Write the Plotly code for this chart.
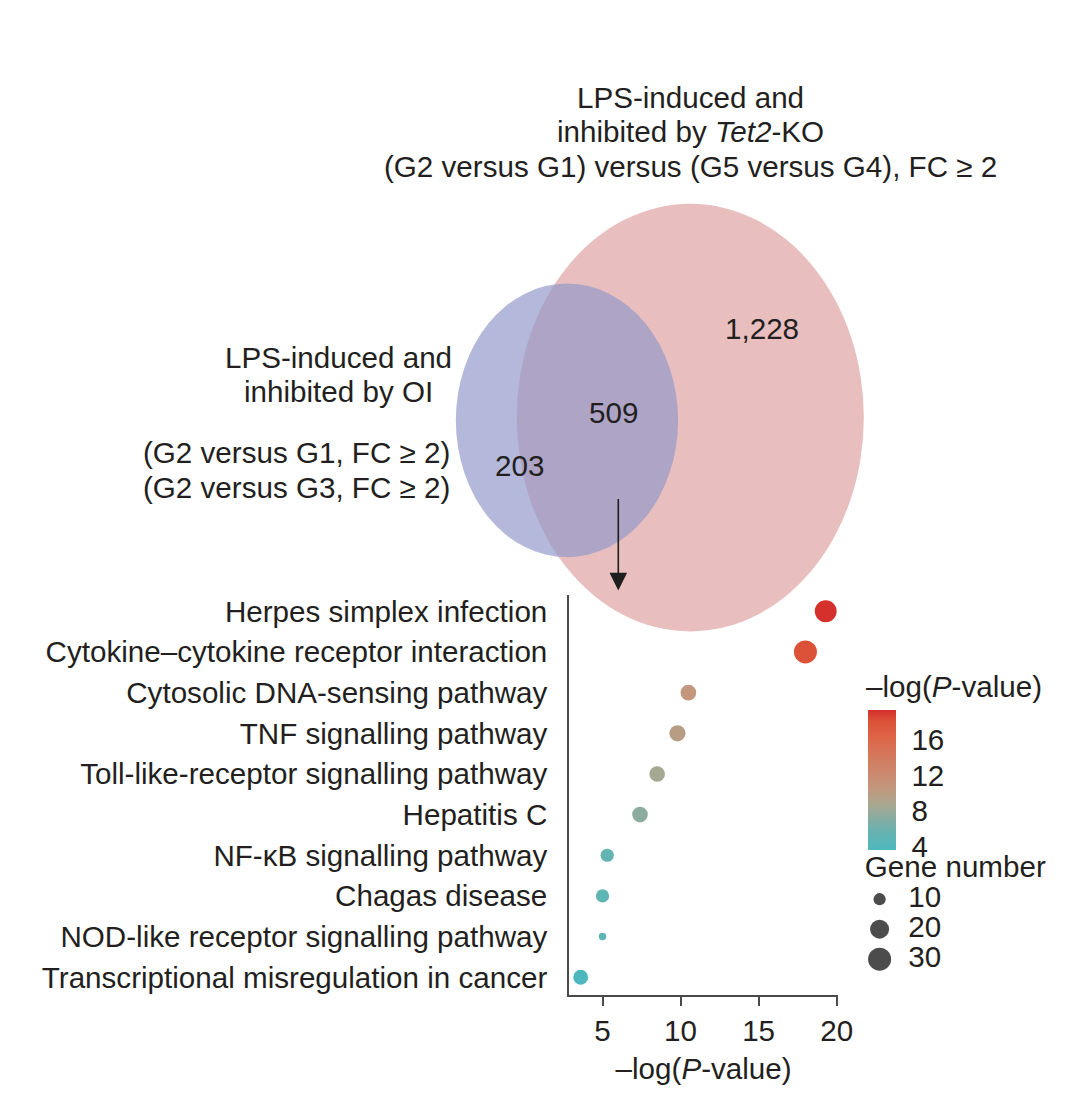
import numpy as np
import plotly.graph_objects as go

# ---------------- data ----------------
pathways = [
    "Herpes simplex infection",
    "Cytokine–cytokine receptor interaction",
    "Cytosolic DNA-sensing pathway",
    "TNF signalling pathway",
    "Toll-like-receptor signalling pathway",
    "Hepatitis C",
    "NF-κB signalling pathway",
    "Chagas disease",
    "NOD-like receptor signalling pathway",
    "Transcriptional misregulation in cancer",
]
neg_log_p = [19.3, 18.0, 10.5, 9.8, 8.5, 7.4, 5.3, 5.0, 5.0, 3.6]
gene_number = [27, 30, 14, 15, 14, 14, 11, 11, 8, 13]
size_legend_values = [10, 20, 30]
x_tick_values = [5, 10, 15, 20]
colorbar_tick_values = [4, 8, 12, 16]

venn_only_oi = 203
venn_both = 509
venn_only_tet2 = 1228

# ---------------- styling ----------------
W, H = 1080, 1106
FONT = "Liberation Sans, Arial, Helvetica, sans-serif"
TXT = "#231F20"
FS = 29.6
AX = "#4a4a4a"
OFFX = 10  # horizontal correction in pixels

colorscale = [
    [0.00, "#4CB8BD"],
    [0.15, "#6CB1AE"],
    [0.32, "#A8A892"],
    [0.45, "#C4957B"],
    [0.60, "#CF8268"],
    [0.80, "#DE6548"],
    [0.92, "#DB5238"],
    [1.00, "#D5302C"],
]

gmin, gmax = min(gene_number), max(gene_number)


def dot_size(g):
    g = np.asarray(g, dtype=float)
    return 7.5 + 15.5 * np.sqrt(np.clip((g - gmin) / (gmax - gmin), 0, None))


def px_x(p):
    return (p + OFFX) / W


def px_y(p):
    return 1 - p / H


fig = go.Figure()

# ---------------- dot plot ----------------
fig.add_trace(go.Scatter(
    x=neg_log_p, y=pathways, mode="markers",
    xaxis="x", yaxis="y",
    marker=dict(
        size=dot_size(gene_number), color=neg_log_p,
        colorscale=colorscale, line=dict(width=0), opacity=1,
        showscale=True,
        colorbar=dict(
            x=px_x(860), xanchor="left",
            y=px_y(780), yanchor="middle",
            len=140, lenmode="pixels",
            thickness=28, thicknessmode="pixels",
            outlinewidth=0,
            tickvals=colorbar_tick_values,
            ticks="outside", ticklen=10, tickcolor="rgba(255,255,255,0)",
            tickfont=dict(family=FONT, size=FS, color=TXT),
            xpad=10, ypad=0,
        ),
    ),
    showlegend=False, hoverinfo="x+y",
))

# ---------------- size legend ----------------
fig.add_trace(go.Scatter(
    x=[22] * len(size_legend_values), y=list(range(len(size_legend_values))),
    mode="markers", xaxis="x3", yaxis="y3",
    marker=dict(size=dot_size(size_legend_values), color="black", line=dict(width=0)),
    showlegend=False, hoverinfo="skip",
))
fig.add_trace(go.Scatter(
    x=[51] * len(size_legend_values), y=list(range(len(size_legend_values))),
    mode="text", text=[str(v) for v in size_legend_values],
    textposition="middle right", xaxis="x3", yaxis="y3",
    textfont=dict(family=FONT, size=FS, color=TXT),
    showlegend=False, hoverinfo="skip",
))
fig.add_trace(go.Scatter(
    x=[7], y=[-1], mode="text", text=["Gene number"],
    textposition="middle right", xaxis="x3", yaxis="y3",
    textfont=dict(family=FONT, size=FS, color=TXT),
    showlegend=False, hoverinfo="skip",
))

# ---------------- Venn geometry ----------------
rA = np.sqrt((venn_only_oi + venn_both) / np.pi)
rB = np.sqrt((venn_both + venn_only_tet2) / np.pi)


def lens_area(d, r1, r2):
    a1 = r1 ** 2 * np.arccos((d ** 2 + r1 ** 2 - r2 ** 2) / (2 * d * r1))
    a2 = r2 ** 2 * np.arccos((d ** 2 + r2 ** 2 - r1 ** 2) / (2 * d * r2))
    a3 = 0.5 * np.sqrt((-d + r1 + r2) * (d + r1 - r2) * (d - r1 + r2) * (d + r1 + r2))
    return a1 + a2 - a3


lo, hi = (rB - rA) + 1e-9, (rA + rB) - 1e-9
for _ in range(80):
    mid = 0.5 * (lo + hi)
    if lens_area(mid, rB, rA) > venn_both:
        lo = mid
    else:
        hi = mid
d_centers = 0.5 * (lo + hi)

# Venn axis scaling (pixel frame of the subplot)
sx = 176 / rB
sy = 214 / rB
cx_px, cy_px = 690, 417
vx0, vx1, vy0, vy1 = 380, 900, 190, 640
venn_xrange = [-(cx_px - vx0) / sx, (vx1 - cx_px) / sx]
venn_yrange = [-(vy1 - cy_px) / sy, (cy_px - vy0) / sy]

shapes = [
    dict(type="circle", xref="x2", yref="y2",
         x0=-rB, x1=rB, y0=-rB, y1=rB,
         fillcolor="#E8BFBE", line=dict(width=0), layer="below"),
    dict(type="circle", xref="x2", yref="y2",
         x0=-d_centers - rA, x1=-d_centers + rA, y0=-rA - 0.3, y1=rA - 0.3,
         fillcolor="rgba(144,152,202,0.68)", line=dict(width=0), layer="below"),
]

annotations = []


def add_text(text, x, y, xanchor="center", size=FS):
    annotations.append(dict(
        text=text, x=px_x(x), y=px_y(y), xref="paper", yref="paper",
        xanchor=xanchor, yanchor="middle", showarrow=False,
        font=dict(family=FONT, size=size, color=TXT),
    ))


# Venn header
add_text("LPS-induced and", 690, 97)
add_text("inhibited by <i>Tet2</i>-KO", 690, 131)
add_text("(G2 versus G1) versus (G5 versus G4), FC ≥ 2", 690, 166)
# Left label
add_text("LPS-induced and", 333, 357)
add_text("inhibited by OI", 333, 391)
add_text("(G2 versus G1, FC ≥ 2)", 448, 452, xanchor="right")
add_text("(G2 versus G3, FC ≥ 2)", 448, 487, xanchor="right")
# counts
add_text(f"{venn_only_tet2:,}", 763, 328)
add_text(f"{venn_both:,}", 612, 412)
add_text(f"{venn_only_oi:,}", 517, 465)
# colorbar title
add_text("–log(<i>P</i>-value)", 866, 686, xanchor="left")

# arrow
annotations.append(dict(
    x=px_x(617), y=px_y(590), xref="paper", yref="paper",
    ax=0, ay=-93, axref="pixel", ayref="pixel",
    showarrow=True, arrowhead=2, arrowsize=2.2, arrowwidth=1.6,
    arrowcolor="#1e1e1e", text="",
))

fig.update_layout(
    width=W, height=H,
    margin=dict(l=0, r=0, t=0, b=0),
    paper_bgcolor="white", plot_bgcolor="rgba(0,0,0,0)",
    font=dict(family=FONT, size=FS, color=TXT),
    shapes=shapes, annotations=annotations,
    showlegend=False,
    xaxis=dict(
        domain=[px_x(567), px_x(840)], anchor="y",
        range=[2.85, 20.1], tickvals=x_tick_values,
        ticks="outside", ticklen=9, tickwidth=1.5, tickcolor=AX,
        showline=True, linecolor=AX, linewidth=1.5,
        showgrid=False, zeroline=False,
        tickfont=dict(family=FONT, size=FS, color=TXT),
        title=dict(text="–log(<i>P</i>-value)", font=dict(family=FONT, size=FS, color=TXT), standoff=12),
    ),
    yaxis=dict(
        domain=[px_y(995), px_y(595)], anchor="x",
        type="category", categoryorder="array", categoryarray=pathways,
        range=[9.44, -0.39],
        ticks="", showline=True, linecolor=AX, linewidth=1.5,
        showgrid=False, zeroline=False, ticklabelstandoff=14,
        tickfont=dict(family=FONT, size=FS, color=TXT),
    ),
    xaxis2=dict(domain=[px_x(vx0), px_x(vx1)], anchor="y2", range=venn_xrange, visible=False),
    yaxis2=dict(domain=[px_y(vy1), px_y(vy0)], anchor="x2", range=venn_yrange, visible=False),
    xaxis3=dict(domain=[px_x(860), px_x(1060)], anchor="y3", range=[0, 200], visible=False),
    yaxis3=dict(domain=[px_y(974), px_y(854)], anchor="x3", range=[2.5, -1.5], visible=False),
)

fig.write_html("out.html")
